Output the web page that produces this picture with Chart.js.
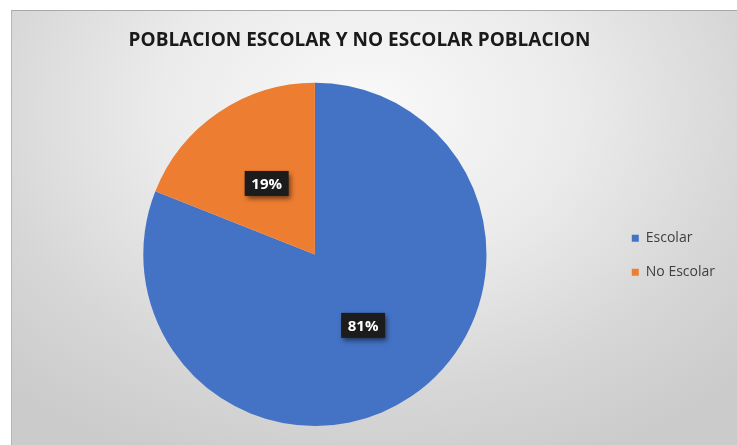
<!DOCTYPE html>
<html>
<head>
<meta charset="utf-8">
<script src="https://cdn.jsdelivr.net/npm/chart.js@4/dist/chart.umd.min.js"></script>
<style>
  html, body { margin: 0; padding: 0; background: #fff; overflow: hidden; }
  #frame {
    position: absolute; left: 11px; top: 10px; width: 740px; height: 450px;
    border-top: 1px solid #a9a9a9; border-left: 1px solid #b5b5b5;
    background: radial-gradient(ellipse 70% 85% at 48% 22%, #f9f9f9 0%, #ebebeb 40%, #d6d6d6 75%, #cbcbcb 100%);
  }
  #wrap { position: absolute; left: -19px; top: 10px; width: 756px; height: 435px; }
</style>
</head>
<body>
<div id="frame"></div>
<div id="wrap"><canvas id="chart-poblacion"></canvas></div>
<script>
// Datos del gráfico
const categorias = ['Escolar', 'No Escolar'];
const porcentajes = [81, 19];
const colores = ['#4472c4', '#ed7d31'];

// Etiquetas de porcentaje en recuadro negro (estilo Excel)
const etiquetasPlugin = {
  id: 'etiquetas',
  afterDatasetsDraw(chart) {
    const ctx = chart.ctx;
    const meta = chart.getDatasetMeta(0);
    const total = porcentajes.reduce((a, b) => a + b, 0);
    ctx.save();
    ctx.font = 'bold 15px "Open Sans", sans-serif';
    ctx.textAlign = 'center';
    ctx.textBaseline = 'middle';
    meta.data.forEach((arc, i) => {
      const p = arc.tooltipPosition();
      const txt = Math.round(porcentajes[i] / total * 100) + '%';
      const w = 44, h = 25;
      ctx.shadowColor = 'rgba(0,0,0,0.55)';
      ctx.shadowBlur = 5;
      ctx.shadowOffsetX = 2;
      ctx.shadowOffsetY = 3;
      ctx.fillStyle = '#1c1c1c';
      ctx.fillRect(p.x - w / 2, p.y - h / 2, w, h);
      ctx.shadowColor = 'transparent';
      ctx.fillStyle = '#ffffff';
      ctx.fillText(txt, p.x, p.y + 1);
    });
    ctx.restore();
  }
};

// El título de Excel queda centrado en todo el marco, no sobre el área del gráfico
const tituloPlugin = {
  id: 'tituloDesplazado',
  afterLayout(chart) {
    const t = chart.titleBlock;
    if (t) { t.left -= 12; t.right -= 12; }
  }
};

new Chart(document.getElementById('chart-poblacion'), {
  type: 'pie',
  data: {
    labels: categorias,
    datasets: [{
      data: porcentajes,
      backgroundColor: colores,
      borderWidth: 0,
    }],
  },
  options: {
    responsive: true,
    maintainAspectRatio: false,
    animation: false,
    layout: { padding: { left: 37, right: 12, bottom: 19, top: 0 } },
    plugins: {
      title: {
        display: true,
        text: 'POBLACION ESCOLAR Y NO ESCOLAR POBLACION',
        color: '#1a1a1a',
        font: { family: '"Open Sans", sans-serif', size: 19, weight: 'bold' },
        padding: { top: 19, bottom: 31 },
      },
      legend: {
        display: true,
        position: 'right',
        title: { display: true, text: '', padding: { top: 0, bottom: 60 } },
        labels: {
          color: '#404040',
          font: { family: '"Open Sans", sans-serif', size: 14 },
          boxWidth: 7,
          boxHeight: 7,
          padding: 20,
        },
      },
      tooltip: { enabled: false },
    },
  },
  plugins: [etiquetasPlugin, tituloPlugin],
});
</script>
</body>
</html>
